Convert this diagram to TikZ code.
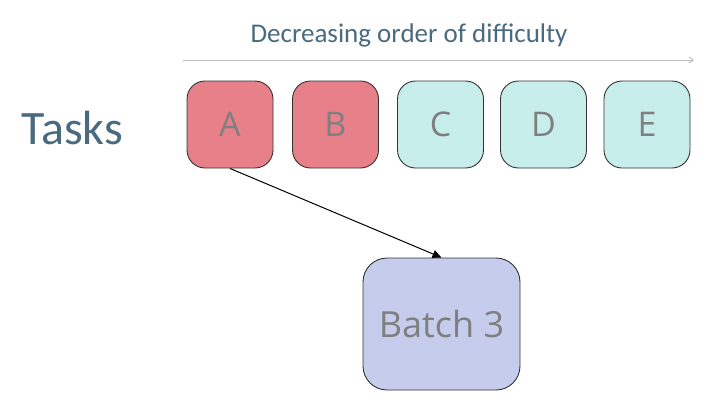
\documentclass[tikz,border=0pt]{standalone}
\usepackage{fontspec}
\setmainfont{Carlito}
\newfontfamily\boxfont{Open Sans}
\usetikzlibrary{arrows.meta}
\definecolor{titleblue}{HTML}{4A6A80}
\definecolor{hardred}{HTML}{E8808A}
\definecolor{easycyan}{HTML}{C8EEEC}
\definecolor{batchblue}{HTML}{C5CCEC}
\definecolor{lettergray}{HTML}{7F7F7F}
\begin{document}
\begin{tikzpicture}[x=1pt,y=-1pt,
  task/.style={draw=black!80, line width=0.9pt, rounded corners=18pt, minimum width=86pt, minimum height=87pt, inner sep=0pt, font=\boxfont\fontsize{34}{40}\selectfont, text=lettergray},
  hard/.style={task, fill=hardred},
  easy/.style={task, fill=easycyan},
  batch/.style={draw=black!80, line width=0.9pt, rounded corners=24pt, minimum width=157pt, minimum height=132pt, inner sep=0pt, fill=batchblue, font=\boxfont\fontsize{36}{42}\selectfont, text=lettergray}]
\useasboundingbox (0,0) rectangle (726,410);
\node[font=\fontsize{27}{32}\selectfont, text=titleblue] (title) at (409,35) {Decreasing order of difficulty};
\coordinate (arrS) at (183,60);
\coordinate (arrE) at (694,60);
\draw[black!25, line width=1pt, -{Straight Barb[length=4pt,width=6pt]}] (arrS) -- (arrE);
\node[font=\fontsize{48}{54}\selectfont, text=titleblue, anchor=west] (tasks) at (18,128) {Tasks};
\node[hard] (A) at (230,124.5) {A};
\node[hard] (B) at (335.5,124.5) {B};
\node[easy] (C) at (440.5,124.5) {C};
\node[easy] (D) at (543.5,124.5) {D};
\node[easy] (E) at (647,124.5) {E};
\node[batch] (batch) at (441.5,324) {Batch 3};
\draw[black, line width=1pt, -{Triangle[length=9pt,width=8pt]}] (A.south) -- (batch.north);
\end{tikzpicture}
\end{document}
